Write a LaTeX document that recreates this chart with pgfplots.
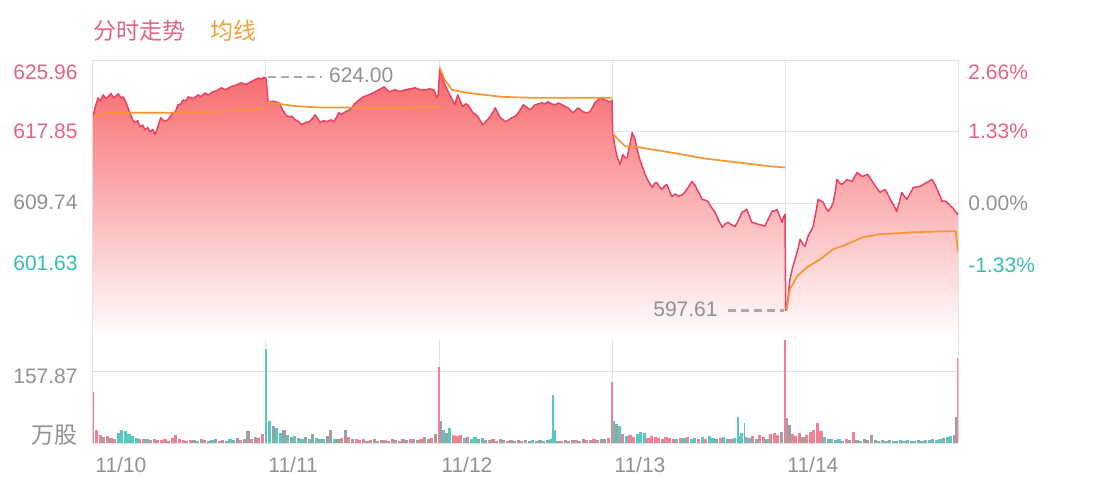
\documentclass[border=0pt]{standalone}
\usepackage{pgfplots}
\usepackage{pgfplotstable}
\pgfplotsset{compat=1.18}
\usepackage{fontspec}
\setmainfont{Liberation Sans}
\newfontfamily\cjk{Noto Sans CJK SC}
\definecolor{gridc}{RGB}{226,226,226}
\definecolor{pinkc}{RGB}{226,100,130}
\definecolor{tealc}{RGB}{55,190,180}
\definecolor{grayc}{RGB}{145,145,145}
\definecolor{legorange}{RGB}{240,160,60}
\definecolor{pricec}{RGB}{234,66,98}
\definecolor{fillc}{RGB}{247,104,108}
\definecolor{avgc}{RGB}{245,150,50}
\definecolor{volpink}{RGB}{240,128,150}
\definecolor{volteal}{RGB}{85,200,192}
\definecolor{volgray}{RGB}{160,160,160}
\definecolor{annc}{RGB}{170,170,170}

\pgfplotstableread{
x y
0 619.54
3 620.6
7 621.68
10 621.3
14 622.02
18 621.6
21 621.79
25 622.2
28 621.68
32 621.9
35 622.13
39 621.7
42 621.79
46 621.12
51 620.00
55 619.2
58 618.86
62 619.1
65 618.41
69 618.6
72 618.07
76 618.3
79 617.85
83 618.1
86 617.51
90 618.41
94 619.43
99 619.0
104 619.20
109 619.8
114 620.10
118 620.89
122 621.0
125 621.45
129 621.3
132 621.79
139 621.6
146 622.02
150 621.8
155 622.24
160 622.0
166 622.36
172 622.5
178 622.81
184 622.6
191 622.92
198 623.1
205 623.37
212 623.2
219 623.48
224 623.7
229 623.93
233 623.8
237 624.00
240 623.9
243 621.12
250 621.3
258 621.12
262 620.5
265 620.10
268 619.7
272 619.54
276 619.6
280 619.20
285 619.0
290 618.64
295 618.9
300 618.98
304 619.3
308 619.76
312 619.3
315 618.86
320 619.1
325 618.98
330 619.2
334 618.98
338 619.5
341 619.99
345 619.8
350 620.10
355 620.3
359 620.55
363 621.0
366 621.23
370 621.5
373 621.68
378 621.9
383 622.02
387 622.2
391 622.36
397 622.6
404 622.92
408 622.6
411 622.36
415 622.5
419 622.58
426 622.4
433 622.58
440 622.7
447 622.81
454 622.6
461 622.58
467 622.7
473 622.58
477 621.68
479 622.1
481 625.06
485 623.9
488 623.14
492 622.5
495 622.02
499 621.4
502 620.89
506 622.02
510 621.2
513 620.67
517 621.0
520 620.89
524 620.4
527 619.99
531 619.8
534 619.54
538 619.0
541 618.64
546 619.1
551 619.54
555 620.1
558 620.55
562 619.9
565 619.43
569 619.2
572 618.98
577 619.2
581 619.43
586 619.6
590 619.99
594 620.5
597 620.89
602 620.6
606 620.33
610 620.6
613 620.89
618 621.0
623 621.12
627 621.0
631 621.23
636 621.0
641 620.89
646 621.1
651 620.89
655 620.7
659 620.55
663 620.2
666 619.99
670 620.3
673 620.55
678 620.2
683 619.99
686 620.0
689 620.10
693 620.6
696 621.12
700 621.4
703 621.68
707 621.5
710 621.45
714 621.3
717 621.23
720 621.4
721 617.74
724 616.2
727 615.03
731 614.13
735 615.26
738 614.9
741 614.92
745 616.5
748 617.74
752 616.95
756 615.48
759 614.6
762 613.91
766 613.0
769 612.44
773 611.9
776 611.54
779 612.0
782 612.11
786 611.6
789 611.32
793 611.7
796 611.88
800 611.1
803 610.53
808 610.8
812 610.53
817 610.7
821 610.98
826 611.6
831 612.22
835 611.8
838 611.32
842 610.7
845 610.19
849 610.1
853 609.97
858 609.3
863 608.72
868 607.8
873 607.04
877 607.4
881 607.60
886 607.3
891 607.15
896 607.9
900 608.72
904 608.9
907 609.06
911 608.2
914 607.60
918 607.5
923 607.37
927 607.3
932 607.15
937 608.0
942 608.84
946 608.9
949 609.06
953 608.2
956 607.60
958 608.2
960 608.50
961 597.61
963 598.03
965 599.8
967 601.18
970 602.3
974 603.43
978 604.6
981 605.69
985 605.1
988 604.90
990 605.5
992 606.02
996 606.6
999 607.15
1003 608.8
1006 610.19
1010 610.0
1013 609.85
1017 609.2
1020 608.84
1024 609.3
1027 609.85
1030 611.2
1032 612.44
1036 612.0
1039 611.88
1043 612.2
1046 612.44
1050 612.3
1053 612.22
1057 612.8
1060 613.23
1064 613.0
1067 612.78
1071 612.9
1075 613.01
1079 612.5
1082 612.11
1087 611.5
1092 610.98
1096 611.2
1099 611.32
1103 610.7
1106 610.19
1111 609.5
1115 608.84
1119 610.0
1122 610.98
1126 610.5
1129 610.19
1134 610.9
1138 611.54
1143 611.6
1147 611.66
1152 611.9
1157 612.11
1161 612.3
1164 612.44
1168 611.9
1171 611.32
1175 610.6
1178 609.97
1182 610.0
1185 609.85
1189 609.5
1192 609.29
1196 608.9
1199 608.50
1200 608.7
}\pricedata

\pgfplotstableread{
x y
0 619.54
5 619.7
15 619.85
30 619.99
100 619.99
180 620.1
240 620.6
nan nan
241 621.12
258 621.0
280 620.75
310 620.6
400 620.55
480 620.65
nan nan
481 625.06
488 623.71
498 622.58
520 622.24
567 621.79
613 621.68
720 621.68
nan nan
721 617.6
738 616.2
756 616.1
803 615.48
849 614.81
895 614.36
942 613.91
960 613.80
nan nan
961 597.8
963 598.14
967 600.05
977 601.52
991 602.53
1009 603.43
1027 604.56
1046 605.12
1068 605.91
1092 606.25
1138 606.47
1185 606.59
1197 606.59
1200 604.22
}\avgdata

\pgfplotstableread{
x y
15 14
25 12
65 8
85 9
105 5
130 5
140 7
150 10
160 5
170 8
180 7
185 5
195 6
200 12
210 9
215 26
225 14
250 38
265 30
275 14
285 12
295 14
305 20
315 10
325 16
330 28
340 8
350 30
360 8
380 5
390 8
400 7
410 5
420 6
430 9
435 7
445 10
450 6
460 14
465 8
475 20
482 50
490 22
535 8
545 7
555 8
565 9
570 6
580 7
585 5
590 6
600 7
605 5
615 5
620 6
630 6
645 5
655 6
665 7
675 5
680 8
690 7
700 6
705 10
710 8
726 42
790 10
865 10
955 24
962 56
966 40
985 14
1020 10
1030 6
1040 5
1050 6
1060 6
1070 8
1075 6
1080 18
1085 6
1095 7
1105 6
1115 5
1125 5
1135 5
1145 6
1155 7
1165 8
1180 12
1195 18
1198 58
}\volgray

\pgfplotstableread{
x y
5 28
10 18
20 16
30 10
70 10
80 6
90 7
95 6
100 8
110 12
115 18
120 9
125 6
135 6
155 6
175 5
205 7
220 10
230 12
235 20
345 12
355 14
365 10
370 6
375 8
385 6
395 5
405 6
415 8
425 5
440 8
455 8
470 12
500 18
505 16
510 18
520 14
550 6
560 5
575 5
595 5
650 5
660 5
670 6
685 6
695 8
715 12
735 20
745 18
750 14
770 12
775 16
780 14
785 12
795 14
800 12
805 10
815 11
825 14
840 9
850 10
870 12
885 10
905 14
915 16
925 18
930 14
940 20
945 22
950 18
970 20
975 16
980 22
990 18
995 24
1000 30
1005 44
1010 26
1045 8
1055 24
}\volpink

\pgfplotstableread{
x y
35 22
40 30
45 26
50 20
55 16
60 12
75 8
145 5
165 6
190 8
245 50
255 34
260 22
270 18
280 16
290 10
300 9
310 12
320 8
335 10
486 30
495 34
515 12
525 10
530 13
540 11
610 6
625 5
635 8
640 28
722 50
730 38
740 16
755 20
760 24
765 22
810 9
820 12
830 10
835 12
845 14
855 16
860 12
875 14
880 10
890 12
895 16
900 22
910 12
920 10
935 10
1015 14
1025 8
1035 8
1065 5
1090 5
1100 5
1110 5
1120 6
1130 6
1140 5
1150 5
1160 6
1170 7
1175 10
1185 14
1190 16
}\volteal

\pgfplotstableread{
x y
0 113
480 169
720 136
960 228
1200 189
}\spikepink

\pgfplotstableread{
x y
240 209
638 107
895 58
904 44
}\spiketeal

\begin{document}
\begin{tikzpicture}
\useasboundingbox (0,0) rectangle (555pt,247pt);

% legend
\node[anchor=west, inner sep=0pt] at (46.5pt,231.5pt) {\cjk\fontsize{11.5}{12}\selectfont\color{pinkc}分时走势};
\node[anchor=west, inner sep=0pt] at (105pt,231.5pt) {\cjk\fontsize{11.5}{12}\selectfont\color{legorange}均线};

% price panel
\begin{axis}[
  at={(46.5pt,77pt)}, anchor=south west, scale only axis,
  width=432.5pt, height=140pt,
  xmin=0, xmax=1200, ymin=594.28, ymax=625.96,
  axis line style={draw=none}, major tick length=0pt,
  xtick={0,240,480,720,960,1200}, xticklabels={{},{},{},{},{},{}},
  ytick={601.63,609.74,617.85,625.96},
  yticklabels={
    \raisebox{2.24pt}[0pt][0pt]{\color{tealc}601.63},
    \raisebox{-3.26pt}[0pt][0pt]{\color{grayc}609.74},
    \raisebox{-3.26pt}[0pt][0pt]{\color{pinkc}617.85},
    \raisebox{-9.76pt}[0pt][0pt]{\color{pinkc}625.96}},
  yticklabel style={anchor=east, inner sep=0pt, xshift=-7.5pt, font=\fontsize{10.5}{12}\selectfont},
  xmajorgrids, ymajorgrids,
  grid style={draw=gridc, line width=0.5pt},
  unbounded coords=jump,
]
\addplot[draw=none, top color=fillc, bottom color=white] table {\pricedata} \closedcycle;
\addplot[pricec, line width=0.75pt, line join=round] table {\pricedata};
\addplot[avgc, line width=0.85pt, line join=round] table {\avgdata};
% annotations
\draw[annc, line width=1.1pt, dash pattern=on 4pt off 2.5pt] (axis cs:243,624.0) -- (axis cs:318,624.0);
\node[anchor=west, inner sep=0pt, text=grayc, font=\fontsize{10.5}{12}\selectfont] at (axis cs:327,624.25) {624.00};
\draw[annc, line width=1.1pt, dash pattern=on 4pt off 2.5pt] (axis cs:881,597.61) -- (axis cs:959,597.61);
\node[anchor=east, inner sep=0pt, text=grayc, font=\fontsize{10.5}{12}\selectfont] at (axis cs:867,597.75) {597.61};
\end{axis}

% right percentage labels
\begin{axis}[
  at={(46.5pt,77pt)}, anchor=south west, scale only axis,
  width=432.5pt, height=140pt,
  xmin=0, xmax=1200, ymin=594.28, ymax=625.96,
  axis line style={draw=none}, major tick length=0pt,
  xtick=\empty,
  ytick={601.63,609.74,617.85,625.96},
  yticklabel pos=right,
  yticklabels={
    \raisebox{1.24pt}[0pt][0pt]{\color{tealc}-1.33\%},
    \raisebox{-3.76pt}[0pt][0pt]{\color{grayc}0.00\%},
    \raisebox{-3.26pt}[0pt][0pt]{\color{pinkc}1.33\%},
    \raisebox{-9.76pt}[0pt][0pt]{\color{pinkc}2.66\%}},
  yticklabel style={anchor=west, inner sep=0pt, xshift=5pt, font=\fontsize{10.5}{12}\selectfont},
]
\addplot[draw=none] coordinates {(0,600)};
\end{axis}

% volume panel
\begin{axis}[
  at={(46.5pt,25.5pt)}, anchor=south west, scale only axis,
  width=432.5pt, height=51.5pt,
  xmin=0, xmax=1200, ymin=0, ymax=229,
  axis line style={draw=none}, major tick length=0pt,
  xtick={0,240,480,720,960,1200},
  xticklabels={
    \raisebox{-14.76pt}[0pt][0pt]{11/10},
    \raisebox{-14.76pt}[0pt][0pt]{11/11},
    \raisebox{-14.76pt}[0pt][0pt]{11/12},
    \raisebox{-14.76pt}[0pt][0pt]{11/13},
    \raisebox{-14.76pt}[0pt][0pt]{11/14},{}},
  xticklabel style={anchor=west, inner sep=0pt, xshift=1pt, text=grayc, font=\fontsize{10.5}{12}\selectfont},
  ytick={0,157.87},
  yticklabels={
    \raisebox{-0.4pt}[0pt][0pt]{\cjk\fontsize{11.5}{12}\selectfont\color{grayc}万股},
    \raisebox{-5.76pt}[0pt][0pt]{\color{grayc}157.87}},
  yticklabel style={anchor=east, inner sep=0pt, xshift=-7.5pt, font=\fontsize{10.5}{12}\selectfont},
  xmajorgrids, ymajorgrids,
  grid style={draw=gridc, line width=0.5pt},
]
\addplot[ycomb, no markers, volgray, line width=1.6pt] table {\volgray};
\addplot[ycomb, no markers, volpink, line width=1.6pt] table {\volpink};
\addplot[ycomb, no markers, volteal, line width=1.6pt] table {\volteal};
\addplot[ycomb, no markers, volpink, line width=0.8pt] table {\spikepink};
\addplot[ycomb, no markers, volteal, line width=0.8pt] table {\spiketeal};
\end{axis}
\end{tikzpicture}
\end{document}
